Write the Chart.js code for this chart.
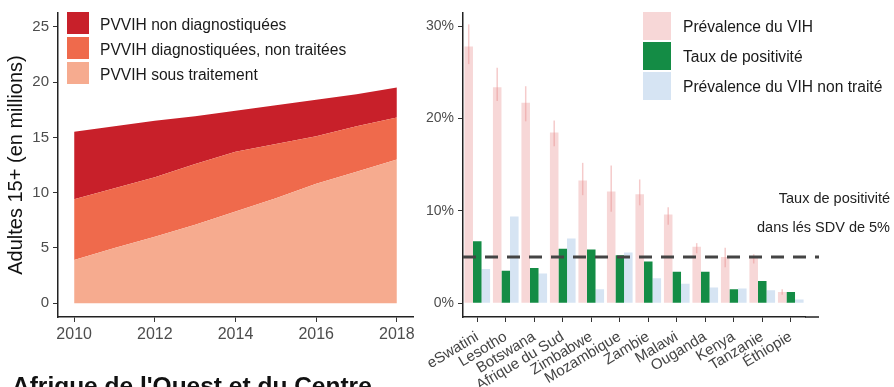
<!DOCTYPE html>
<html>
<head>
<meta charset="utf-8">
<script src="https://cdn.jsdelivr.net/npm/chart.js@4.4.1/dist/chart.umd.min.js"></script>
<style>
body{margin:0;width:894px;height:387px;overflow:hidden;background:#fff;position:relative;font-family:"Liberation Sans",Arial,sans-serif;color:#1a1a1a}
#left{position:absolute;left:0;top:0}
#right{position:absolute;left:420px;top:0}
.leg{position:absolute;font-size:15.6px;white-space:nowrap}
.leg div{display:flex;align-items:center}
.leg span.k{display:inline-block;margin-right:11px}
#legL{left:67px;top:12px}
#legL span.k{width:22px;height:22px;margin-bottom:3px}
#legR{left:643px;top:12px}
#legR span.k{width:28px;height:28px;margin-bottom:2px;margin-right:12px}
.note{position:absolute;right:4px;font-size:14.5px;color:#222}
#title{position:absolute;left:12px;top:374px;font-size:24.5px;font-weight:bold;line-height:1;color:#111}
</style>
</head>
<body>
<canvas id="left" width="420" height="387"></canvas>
<canvas id="right" width="474" height="387"></canvas>
<div class="leg" id="legL"></div>
<div class="leg" id="legR"></div>
<div class="note" style="top:190px">Taux de positivité</div>
<div class="note" style="top:219px">dans lés SDV de 5%</div>
<div id="title">Afrique de l'Ouest et du Centre</div>
<script>
// left panel: adults 15+ living with HIV (millions), stacked
const years = [2010, 2011, 2012, 2013, 2014, 2015, 2016, 2017, 2018];
const treated = [3.9, 5.0, 6.0, 7.1, 8.3, 9.5, 10.8, 11.9, 13.0];
const diagUntreated = [5.5, 5.4, 5.4, 5.5, 5.4, 4.9, 4.3, 4.1, 3.8];
const undiagnosed = [6.1, 5.6, 5.1, 4.3, 3.7, 3.5, 3.3, 2.9, 2.7];
const leftTicksY = [0, 5, 10, 15, 20, 25];
const leftTicksX = [2010, 2012, 2014, 2016, 2018];

// right panel: by country, in %
const countries = ['eSwatini', 'Lesotho', 'Botswana', 'Afrique du Sud', 'Zimbabwe', 'Mozambique', 'Zambie', 'Malawi', 'Ouganda', 'Kenya', 'Tanzanie', 'Éthiopie'];
const prevalence = [27.8, 23.4, 21.7, 18.5, 13.3, 12.1, 11.8, 9.6, 6.1, 5.0, 4.9, 1.2];
const prevLow = [25.9, 21.9, 19.7, 17.0, 11.7, 9.9, 10.6, 8.5, 5.4, 3.9, 4.3, 0.9];
const prevHigh = [30.2, 25.5, 23.5, 19.8, 15.2, 14.9, 13.4, 10.4, 6.5, 6.0, 5.3, 1.5];
const positivity = [6.7, 3.5, 3.8, 5.9, 5.8, 5.2, 4.5, 3.4, 3.4, 1.5, 2.4, 1.2];
const untreatedPrev = [3.7, 9.4, 3.2, 7.0, 1.5, 5.5, 2.7, 2.1, 1.7, 1.6, 1.4, 0.4];
const rightTicksY = [0, 10, 20, 30];
const threshold = 5;

const colL = ['#f6ab8f', '#ef6a4c', '#c8202a'];
const colR = ['#f7d7d7', '#148c45', '#d6e4f3'];

Chart.defaults.font.family = '"Liberation Sans", Arial, sans-serif';
Chart.defaults.animation = false;

function legend(id, labels, colors) {
    document.getElementById(id).innerHTML = labels.map((l, i) =>
        '<div><span class="k" style="background:' + colors[i] + '"></span>' + l + '</div>').join('');
}
legend('legL', ['PVVIH non diagnostiquées', 'PVVIH diagnostiquées, non traitées', 'PVVIH sous traitement'], [colL[2], colL[1], colL[0]]);
legend('legR', ['Prévalence du VIH', 'Taux de positivité', 'Prévalence du VIH non traité'], colR);

const axisStyle = {
    border: {display: true, color: '#222', width: 1.5},
    grid: {display: true, drawOnChartArea: false, drawTicks: true, tickLength: 5, tickColor: '#333', offset: false}
};

function area(label, vals, color, fill) {
    return {
        label: label,
        data: vals.map((v, i) => ({x: years[i], y: v})),
        backgroundColor: color,
        borderWidth: 0,
        pointRadius: 0,
        fill: fill
    };
}

new Chart(document.getElementById('left'), {
    type: 'line',
    data: {
        datasets: [
            area('PVVIH sous traitement', treated, colL[0], 'origin'),
            area('PVVIH diagnostiquées, non traitées', diagUntreated, colL[1], '-1'),
            area('PVVIH non diagnostiquées', undiagnosed, colL[2], '-1')
        ]
    },
    options: {
        responsive: false,
        layout: {padding: {left: 0, right: 7, top: 5, bottom: 0}},
        plugins: {legend: {display: false}, tooltip: {enabled: false}},
        scales: {
            x: {
                type: 'linear', min: 2009.6, max: 2018.4,
                ...axisStyle,
                afterBuildTicks: s => { s.ticks = leftTicksX.map(v => ({value: v})); },
                afterFit: s => { s.height = 70; },
                ticks: {color: '#4d4d4d', font: {size: 16}, padding: 3, maxRotation: 0, callback: v => String(v)}
            },
            y: {
                stacked: true, min: -1.25, max: 26.25,
                ...axisStyle,
                afterBuildTicks: s => { s.ticks = leftTicksY.map(v => ({value: v})); },
                afterFit: s => { s.width = 58; },
                ticks: {color: '#4d4d4d', font: {size: 15}, padding: 4},
                title: {display: true, text: 'Adultes 15+ (en millions)', color: '#111', font: {size: 20}, padding: {top: 4, bottom: 0}}
            }
        }
    }
});

// error bars on prevalence + dashed 5% line
const extras = {
    id: 'extras',
    afterDatasetsDraw(chart) {
        const ctx = chart.ctx, y = chart.scales.y, area = chart.chartArea;
        const meta = chart.getDatasetMeta(0);
        ctx.save();
        ctx.strokeStyle = 'rgba(232,140,140,0.45)';
        ctx.lineWidth = 1.5;
        meta.data.forEach((bar, i) => {
            ctx.beginPath();
            ctx.moveTo(bar.x, y.getPixelForValue(prevLow[i]));
            ctx.lineTo(bar.x, y.getPixelForValue(prevHigh[i]));
            ctx.stroke();
        });
        const ty = y.getPixelForValue(threshold);
        ctx.strokeStyle = '#444';
        ctx.lineWidth = 3;
        ctx.setLineDash([13, 9]);
        ctx.beginPath();
        ctx.moveTo(area.left, ty);
        ctx.lineTo(area.right + 14, ty);
        ctx.stroke();
        ctx.setLineDash([]);
        ctx.strokeStyle = '#222';
        ctx.lineWidth = 1.5;
        ctx.beginPath();
        ctx.moveTo(area.right, area.bottom);
        ctx.lineTo(area.right + 14, area.bottom);
        ctx.stroke();
        ctx.restore();
    }
};

function bars(label, vals, color) {
    return {label: label, data: vals, backgroundColor: color, borderWidth: 0, categoryPercentage: 0.9, barPercentage: 1.0};
}

new Chart(document.getElementById('right'), {
    type: 'bar',
    data: {
        labels: countries,
        datasets: [
            bars('Prévalence du VIH', prevalence, colR[0]),
            bars('Taux de positivité', positivity, colR[1]),
            bars('Prévalence du VIH non traité', untreatedPrev, colR[2])
        ]
    },
    options: {
        responsive: false,
        layout: {padding: {left: 0, right: 89, top: 7, bottom: 0}},
        plugins: {legend: {display: false}, tooltip: {enabled: false}},
        scales: {
            x: {
                ...axisStyle,
                afterFit: s => { s.height = 70; },
                ticks: {color: '#444', font: {size: 15}, padding: 6, minRotation: 31, maxRotation: 31, autoSkip: false}
            },
            y: {
                min: -1.5, max: 31.5,
                ...axisStyle,
                afterBuildTicks: s => { s.ticks = rightTicksY.map(v => ({value: v})); },
                afterFit: s => { s.width = 43; },
                ticks: {color: '#4d4d4d', font: {size: 14}, padding: 4, callback: v => v + '%'}
            }
        }
    },
    plugins: [extras]
});
</script>
</body>
</html>
